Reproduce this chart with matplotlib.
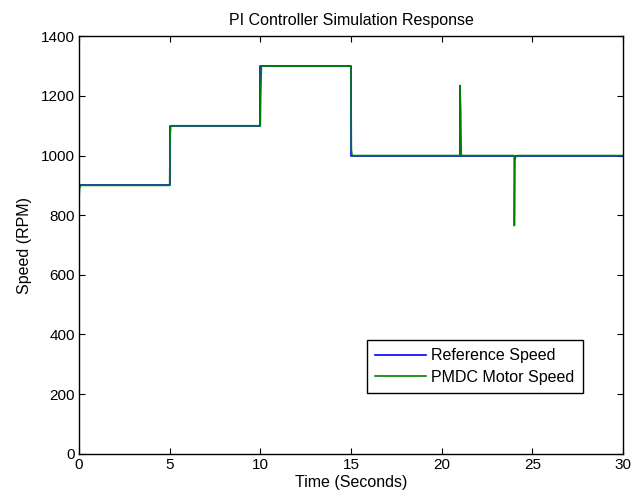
import matplotlib.pyplot as plt
import numpy as np

plt.rcParams['font.family'] = ['Liberation Sans', 'DejaVu Sans']

# reference speed set points (RPM) and the times they change
ref_time = [0, 5, 5, 10, 10, 15, 15, 30]
ref_speed = [900, 900, 1100, 1100, 1300, 1300, 1000, 1000]

# motor speed
motor_time = [0, 0.03, 0.08, 5, 5.02, 5.06, 10, 10.02, 10.06, 15, 15.02, 15.06,
              21, 21.01, 21.05, 21.08, 24, 24.01, 24.04, 24.08, 24.15, 30]
motor_speed = [850, 890, 900, 900, 1060, 1100, 1100, 1200, 1300, 1300, 1020, 1000,
               1000, 1235, 1150, 1000, 1000, 765, 985, 995, 1000, 1000]

fig = plt.figure(figsize=(6.37, 4.97), dpi=100)
ax = fig.add_axes([0.124, 0.087, 0.854, 0.84])

ax.plot(ref_time, ref_speed, color='#0000ff', lw=1.2, label='Reference Speed')
ax.plot(motor_time, motor_speed, color='#008000', lw=1.2, label='PMDC Motor Speed')

ax.set_xlim(0, 30)
ax.set_ylim(0, 1400)
ax.set_xticks(np.arange(0, 31, 5))
ax.set_yticks(np.arange(0, 1401, 200))
ax.tick_params(direction='in', top=True, right=True, labelsize=11, length=4, pad=3)
for s in ax.spines.values():
    s.set_linewidth(1.0)

ax.set_title('PI Controller Simulation Response', fontsize=11.5, pad=8)
ax.set_xlabel('Time (Seconds)', fontsize=11.5, labelpad=2)
ax.set_ylabel('Speed (RPM)', fontsize=11.5, labelpad=6)

leg = ax.legend(loc='lower left', bbox_to_anchor=(0.529, 0.146), fontsize=11.5,
                fancybox=False, framealpha=1, edgecolor='black',
                handlelength=3.2, handletextpad=0.35, borderpad=0.5,
                labelspacing=0.42, borderaxespad=0)
leg.get_frame().set_linewidth(1.0)

fig.savefig('out.png', dpi=100)
